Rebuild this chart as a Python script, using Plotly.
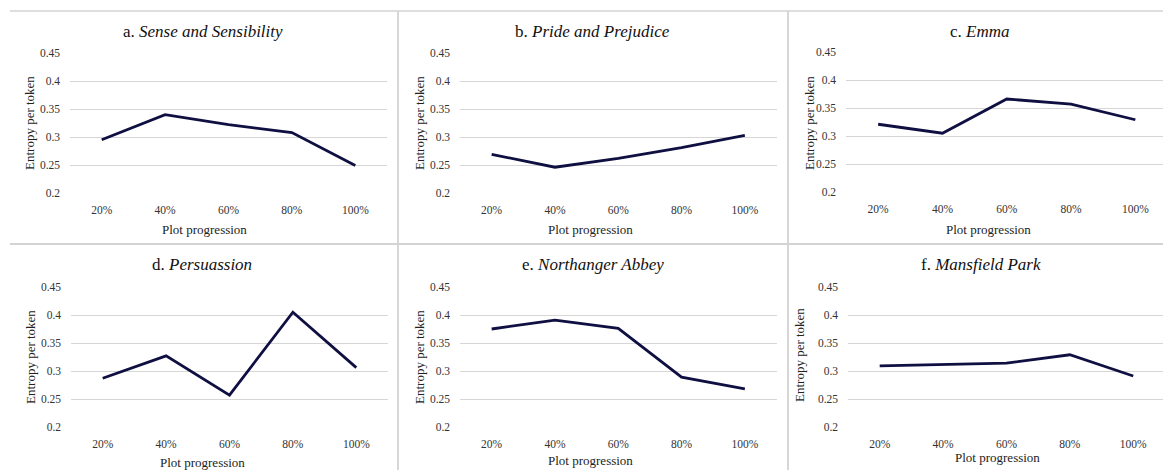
import plotly.graph_objects as go

W, H = 1163, 470

categories = ["20%", "40%", "60%", "80%", "100%"]
y_ticks = [0.2, 0.25, 0.3, 0.35, 0.4, 0.45]
y_tick_labels = ["0.2", "0.25", "0.3", "0.35", "0.4", "0.45"]

sense_and_sensibility = [0.295, 0.340, 0.322, 0.308, 0.249]
pride_and_prejudice = [0.269, 0.246, 0.262, 0.281, 0.303]
emma = [0.321, 0.305, 0.366, 0.357, 0.329]
persuassion = [0.287, 0.327, 0.257, 0.405, 0.306]
northanger_abbey = [0.375, 0.391, 0.376, 0.289, 0.268]
mansfield_park = [0.309, 0.311, 0.314, 0.329, 0.291]

panel_titles = [
    "a. <i>Sense and Sensibility</i>",
    "b. <i>Pride and Prejudice</i>",
    "c. <i>Emma</i>",
    "d. <i>Persuassion</i>",
    "e. <i>Northanger Abbey</i>",
    "f. <i>Mansfield Park</i>",
]
series = [sense_and_sensibility, pride_and_prejudice, emma,
          persuassion, northanger_abbey, mansfield_park]

x_title = "Plot progression"
y_title = "Entropy per token"

# layout in pixels: (plot_left, plot_right, plot_top, plot_bottom, x_range_max)
plots = [
    (70, 387, 53, 193, 4.5),
    (460, 776.5, 53, 193, 4.5),
    (846, 1163, 52, 192, 4.43),
    (71, 388, 287, 427, 4.5),
    (460, 776.5, 287, 427, 4.5),
    (848, 1163, 287, 427, 4.47),
]
title_pos = [(203, 31), (592, 31), (980, 31), (202, 264), (593, 264), (981, 264)]
xtitle_pos = [(204, 229), (590, 229), (988, 229), (202, 462), (590, 460), (997, 457)]
ytitle_pos = [(29, 123), (419, 123), (809, 123), (30, 357), (419, 357), (799, 355)]

SERIF = "Times New Roman, Liberation Serif, DejaVu Serif, serif"
LINE_COLOR = "#0f0f42"
GRID = "#d6d6d6"
TICK_COLOR = "#333333"

def px_x(v):
    return v / W

def px_y(v):
    return 1 - v / H

fig = go.Figure()
annotations = []
for i, (vals, (l, r, t, b, xmax)) in enumerate(zip(series, plots)):
    n = i + 1
    xa = "x" if n == 1 else f"x{n}"
    ya = "y" if n == 1 else f"y{n}"
    fig.add_trace(go.Scatter(
        x=categories, y=vals, mode="lines",
        line=dict(color=LINE_COLOR, width=2.8),
        xaxis=xa, yaxis=ya, showlegend=False, hoverinfo="skip",
    ))
    xkey = "xaxis" if n == 1 else f"xaxis{n}"
    ykey = "yaxis" if n == 1 else f"yaxis{n}"
    fig.update_layout({
        xkey: dict(
            domain=[px_x(l), min(px_x(r), 1)],
            anchor=ya, type="category",
            categoryorder="array", categoryarray=categories,
            range=[-0.5, xmax], automargin=False,
            showgrid=False, zeroline=False, showline=False,
            ticks="", ticklabelstandoff=8,
            tickfont=dict(family=SERIF, size=11.5, color=TICK_COLOR),
            fixedrange=True,
        ),
        ykey: dict(
            domain=[px_y(b), px_y(t)],
            anchor=xa, range=[0.2, 0.45], automargin=False,
            tickvals=y_ticks, ticktext=y_tick_labels,
            showgrid=True, gridcolor=GRID, gridwidth=1.3,
            zeroline=False, showline=False,
            ticks="", ticklabelstandoff=9,
            tickfont=dict(family=SERIF, size=11.5, color=TICK_COLOR),
            fixedrange=True,
        ),
    })
    tx, ty = title_pos[i]
    annotations.append(dict(
        text=panel_titles[i], x=px_x(tx), y=px_y(ty), xref="paper", yref="paper",
        xanchor="center", yanchor="middle", showarrow=False,
        font=dict(family=SERIF, size=17, color="#111111"),
    ))
    ax_, ay_ = xtitle_pos[i]
    annotations.append(dict(
        text=x_title, x=px_x(ax_), y=px_y(ay_), xref="paper", yref="paper",
        xanchor="center", yanchor="middle", showarrow=False,
        font=dict(family=SERIF, size=13, color="#222222"),
    ))
    yx, yy = ytitle_pos[i]
    annotations.append(dict(
        text=y_title, x=px_x(yx), y=px_y(yy), xref="paper", yref="paper",
        xanchor="center", yanchor="middle", showarrow=False, textangle=-90,
        font=dict(family=SERIF, size=13, color="#222222"),
    ))

DIV = "#d3d3d3"
shapes = [
    dict(type="line", xref="paper", yref="paper", x0=px_x(10), x1=1, y0=px_y(11), y1=px_y(11),
         line=dict(color=DIV, width=1.5)),
    dict(type="line", xref="paper", yref="paper", x0=px_x(10), x1=1, y0=px_y(244), y1=px_y(244),
         line=dict(color=DIV, width=1.8)),
    dict(type="line", xref="paper", yref="paper", x0=px_x(398), x1=px_x(398), y0=px_y(11), y1=0,
         line=dict(color=DIV, width=1.8)),
    dict(type="line", xref="paper", yref="paper", x0=px_x(788), x1=px_x(788), y0=px_y(11), y1=0,
         line=dict(color=DIV, width=1.8)),
]

fig.update_layout(
    template="none",
    width=W, height=H,
    margin=dict(l=0, r=0, t=0, b=0, pad=0),
    paper_bgcolor="white", plot_bgcolor="white",
    font=dict(family=SERIF),
    annotations=annotations, shapes=shapes,
    showlegend=False,
)

fig.write_html(
    "out.html",
    config={"displayModeBar": False},
    post_script="document.body.style.margin='0px';document.body.style.padding='0px';document.body.style.overflow='hidden';",
)
